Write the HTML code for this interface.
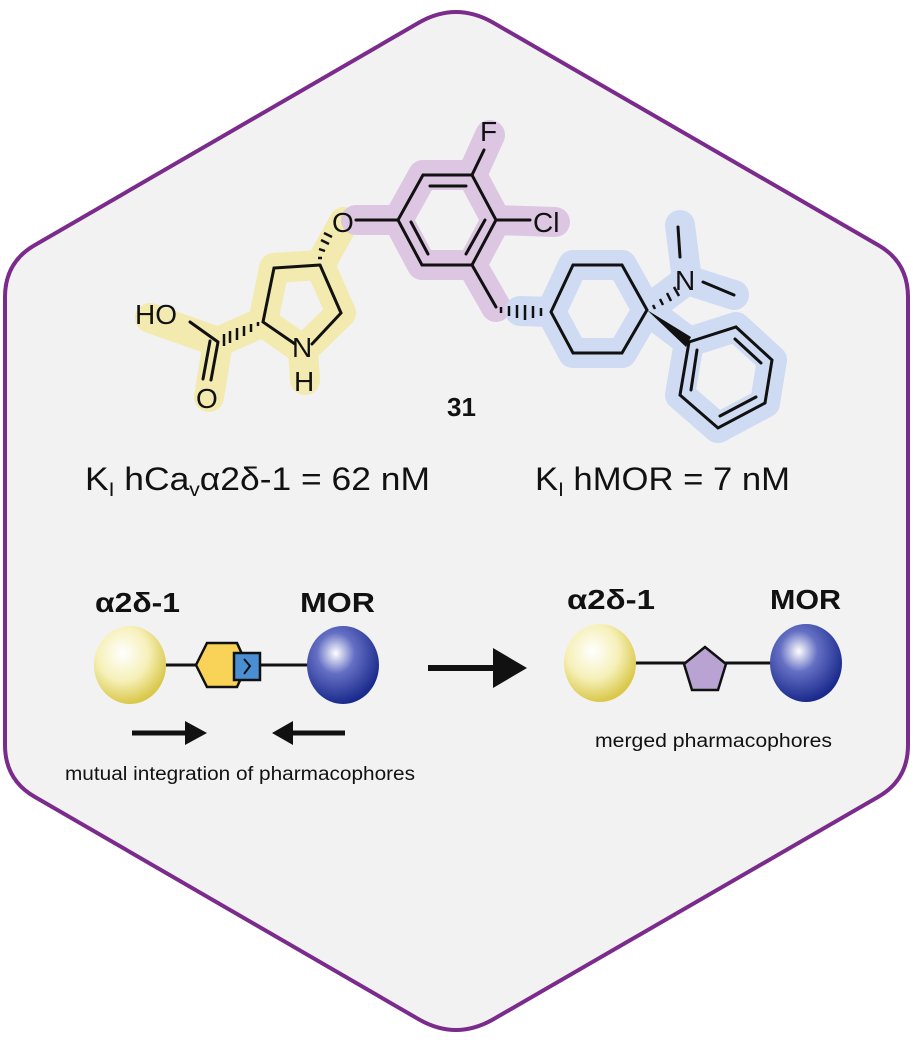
<!DOCTYPE html>
<html><head><style>
html,body{margin:0;padding:0;background:#fff;}
svg{display:block;}
text{font-family:"Liberation Sans",Arial,sans-serif;}
</style></head><body>
<svg width="913" height="1042" viewBox="0 0 913 1042" xmlns="http://www.w3.org/2000/svg">
<defs>
<radialGradient id="gy" cx="0.4" cy="0.35" r="0.65">
<stop offset="0" stop-color="#ffffff"/><stop offset="0.55" stop-color="#f6f0b8"/><stop offset="1" stop-color="#d9c84a"/></radialGradient>
<radialGradient id="gb" cx="0.4" cy="0.35" r="0.65">
<stop offset="0" stop-color="#ffffff"/><stop offset="0.4" stop-color="#6570c4"/><stop offset="1" stop-color="#1a2a8c"/></radialGradient>
</defs>
<path d="M420,22 Q456,2 492,22 L878,245 Q908,262 908,297 L908,745 Q908,780 878,797 L492,1020 Q456,1040 420,1020 L35,797 Q5,780 5,745 L5,297 Q5,262 35,245 Z" fill="#f2f2f2" stroke="#7a2b8c" stroke-width="4"/>

<g fill="none" stroke-linecap="round" stroke-linejoin="round" stroke-width="30">
<path d="M209,397 L218,342 L150,318 M218,342 L263,322 L274,268 L320,265 L341,313 L303,350 L263,322 M303,350 L305,380 M320,265 L344,222" stroke="#f2eaae"/>
<path d="M356,220 L398,220 L423,175 L472,175 L496,220 L472,265 L422,265 L398,220 M472,175 L490,135 M496,220 L555,222 M472,265 L496,307" stroke="#dcc6e2"/>
<path d="M520,311 L551,312 L573,265 L622,265 L647,310 L622,353 L573,353 L551,312 M647,310 L687,280 L680,225 M687,280 L734,295 M647,310 L689,342 L736,327 L772,360 L765,403 L718,428 L680,395 L689,342" stroke="#cfdbf2"/>
</g>

<g fill="none" stroke="#111" stroke-width="3" stroke-linecap="round">
<path d="M398,220 L423,175 L472,175 L496,220 L472,265 L422,265 Z"/>
<path d="M430,186 L466,186 M485,220 L466,254 M428,254 L411,222"/>
<path d="M472,175 L484,150 M496,220 L530,220 M356,220 L398,220 M472,265 L496,307"/>
<path d="M320,265 L274,268 L263,322 L295,344 M312,344 L341,313 L320,265"/>
<path d="M218,342 L190,322 M218,342 L211,380 M210,341 L203,379"/>
<path d="M551,312 L573,265 L622,265 L647,310 L622,353 L573,353 Z"/>
<path d="M680,257 L678,227 M703,282 L734,295"/>
<path d="M689,342 L736,327 L772,360 L765,403 L718,428 L680,395 Z"/>
<path d="M735,339 L761,363 M756,397 L720,416 M691,390 L697,350"/>
</g>
<g stroke="#111" stroke-width="2.5">
<path d="M322,258 L318,258 M325,251 L319,249 M329,244 L321,240 M332,237 L324,233"/>
<path d="M258,322 L258,326 M251,324 L251,332 M244,326 L244,336 M237,328 L237,340 M230,331 L230,343 M224,334 L224,346"/>
<path d="M501,307 L501,313 M509,306 L509,316 M517,305 L517,318 M525,305 L525,320 M533,306 L533,318 M541,308 L541,316"/>
<path d="M653,305 L655,309 M660,299 L663,305 M667,293 L671,301 M674,287 L679,296"/>
</g>
<path d="M647,310 L691,337 L686,347 Z" fill="#111"/>

<g font-size="28" fill="#111">
<text x="332" y="232">O</text>
<text x="480" y="141">F</text>
<text x="533" y="232">Cl</text>
<text x="135" y="324">HO</text>
<text x="196" y="408">O</text>
<text x="292" y="357">N</text>
<text x="294" y="391">H</text>
<text x="675" y="290">N</text>
<text x="447" y="416" font-weight="bold" font-size="26">31</text>
</g>
<g font-size="32" fill="#111">
<text x="85" y="490" textLength="345" lengthAdjust="spacingAndGlyphs">K<tspan font-size="19" dy="6">I</tspan><tspan dy="-6"> hCa</tspan><tspan font-size="19" dy="6">v</tspan><tspan dy="-6">α2δ-1 = 62 nM</tspan></text>
<text x="535" y="490" textLength="255" lengthAdjust="spacingAndGlyphs">K<tspan font-size="19" dy="6">I</tspan><tspan dy="-6"> hMOR = 7 nM</tspan></text>
</g>

<g font-size="28" font-weight="bold" fill="#111">
<text x="95" y="612" textLength="85" lengthAdjust="spacingAndGlyphs">α2δ-1</text>
<text x="300" y="612" textLength="75" lengthAdjust="spacingAndGlyphs">MOR</text>
<text x="567" y="609" textLength="88" lengthAdjust="spacingAndGlyphs">α2δ-1</text>
<text x="770" y="609" textLength="71" lengthAdjust="spacingAndGlyphs">MOR</text>
</g>
<line x1="160" y1="665" x2="310" y2="665" stroke="#111" stroke-width="3"/>
<ellipse cx="130" cy="665" rx="36" ry="39" fill="url(#gy)"/>
<ellipse cx="343" cy="665" rx="36" ry="39" fill="url(#gb)"/>
<path d="M207,643 L237,643 L247,665 L237,687 L207,687 L196,665 Z" fill="#f8d358" stroke="#111" stroke-width="2.5"/>
<rect x="234" y="653" width="26" height="27" fill="#4a8fd4" stroke="#111" stroke-width="2.5"/>
<path d="M244,659 L250,666 L244,674" fill="none" stroke="#111" stroke-width="2"/>
<path d="M132,733 L188,733" stroke="#111" stroke-width="5"/><path d="M185,721 L207,733 L185,745 Z" fill="#111"/>
<path d="M345,733 L290,733" stroke="#111" stroke-width="5"/><path d="M293,721 L272,733 L293,745 Z" fill="#111"/>
<text x="65" y="780" font-size="19" textLength="350" lengthAdjust="spacingAndGlyphs" fill="#111">mutual integration of pharmacophores</text>

<path d="M428,668 L500,668" stroke="#111" stroke-width="6"/><path d="M493,648 L527,668 L493,688 Z" fill="#111"/>

<line x1="630" y1="663" x2="780" y2="663" stroke="#111" stroke-width="3"/>
<ellipse cx="600" cy="663" rx="36" ry="39" fill="url(#gy)"/>
<ellipse cx="806" cy="663" rx="36" ry="39" fill="url(#gb)"/>
<path d="M705,647 L726,664 L718,690 L692,690 L684,664 Z" fill="#b9a3d3" stroke="#111" stroke-width="2.5"/>
<text x="595" y="747" font-size="19" textLength="237" lengthAdjust="spacingAndGlyphs" fill="#111">merged pharmacophores</text>
</svg>
</body></html>
